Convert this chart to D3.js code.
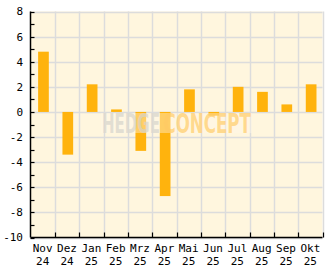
<!DOCTYPE html>
<html>
<head>
<meta charset="utf-8">
<script src="https://cdn.jsdelivr.net/npm/d3@7"></script>
<style>
  html, body { margin: 0; padding: 0; background: #fff; }
  svg { display: block; }
</style>
</head>
<body>
<div id="canvas"></div>
<script>
const months = ['Nov', 'Dez', 'Jan', 'Feb', 'Mrz', 'Apr', 'Mai', 'Jun', 'Jul', 'Aug', 'Sep', 'Okt'];
const years = ['24', '24', '25', '25', '25', '25', '25', '25', '25', '25', '25', '25'];
const values = [4.8, -3.4, 2.2, 0.2, -3.1, -6.7, 1.8, -0.3, 2.0, 1.6, 0.6, 2.2];
const yTicks = [8, 6, 4, 2, 0, -2, -4, -6, -8, -10];
const yMinor = [7, 5, 3, 1, -1, -3, -5, -7, -9];

const width = 332, height = 269;
const plotLeft = 30.5, plotRight = 322.5, plotTop = 11.5, plotBottom = 237.5;

const svg = d3.select('#canvas')
  .append('svg')
  .attr('width', width)
  .attr('height', height);

const x = d3.scaleBand()
  .domain(d3.range(months.length))
  .range([plotLeft, plotRight])
  .padding(0);

const y = d3.scaleLinear()
  .domain([-10, 8])
  .range([plotBottom, plotTop]);

// plot background
svg.append('rect')
  .attr('x', plotLeft)
  .attr('y', plotTop)
  .attr('width', plotRight - plotLeft)
  .attr('height', plotBottom - plotTop)
  .attr('fill', '#fff6de');

// grid
svg.selectAll('.hgrid')
  .data(yTicks)
  .join('line')
  .attr('class', 'hgrid')
  .attr('x1', plotLeft)
  .attr('x2', plotRight)
  .attr('y1', (d) => Math.round(y(d)) + 0.5)
  .attr('y2', (d) => Math.round(y(d)) + 0.5)
  .attr('stroke', '#dcdcdc')
  .attr('stroke-width', 1.5);

svg.selectAll('.vgrid')
  .data(d3.range(1, months.length + 1))
  .join('line')
  .attr('class', 'vgrid')
  .attr('x1', (d) => Math.round(plotLeft + d * x.step()) + 0.5)
  .attr('x2', (d) => Math.round(plotLeft + d * x.step()) + 0.5)
  .attr('y1', plotTop)
  .attr('y2', plotBottom)
  .attr('stroke', '#dcdcdc')
  .attr('stroke-width', 1.5);

// bars
const barW = 10.7;
svg.selectAll('.bar')
  .data(values)
  .join('rect')
  .attr('class', 'bar')
  .attr('x', (d, i) => x(i) + (x.step() - barW) / 2 + 0.8)
  .attr('width', barW)
  .attr('y', (d) => y(Math.max(0, d)))
  .attr('height', (d) => Math.abs(y(d) - y(0)))
  .attr('fill', '#ffb30d');

// watermark, squeezed horizontally to fit
const wm = svg.append('g').attr('opacity', 0.8);
wm.append('rect')
  .attr('x', 101)
  .attr('y', 113)
  .attr('width', 151)
  .attr('height', 20)
  .attr('fill', '#fff8ea')
  .attr('opacity', 0.5);

function squeezedText(str, x0, w, color) {
  const t = wm.append('text')
    .attr('font-family', 'DejaVu Sans Condensed, DejaVu Sans')
    .attr('font-weight', 'bold')
    .attr('font-size', 26)
    .attr('fill', color)
    .text(str);
  const natural = t.node().getComputedTextLength();
  t.attr('transform', `translate(${x0},133) scale(${w / natural},1)`);
}
squeezedText('HEDGE', 102, 58, '#dcd9d0');
squeezedText('CONCEPT', 163.5, 87.5, '#ffd27a');

// axes
svg.append('line')
  .attr('x1', plotLeft).attr('x2', plotLeft)
  .attr('y1', plotTop).attr('y2', plotBottom)
  .attr('stroke', '#000').attr('stroke-width', 1.5);
svg.append('line')
  .attr('x1', plotLeft).attr('x2', plotRight)
  .attr('y1', plotBottom).attr('y2', plotBottom)
  .attr('stroke', '#000').attr('stroke-width', 1.5);

// y ticks (inward)
svg.selectAll('.ytick')
  .data(yTicks.concat(yMinor))
  .join('line')
  .attr('class', 'ytick')
  .attr('x1', plotLeft)
  .attr('x2', plotLeft + 4)
  .attr('y1', (d) => Math.round(y(d)) + 0.5)
  .attr('y2', (d) => Math.round(y(d)) + 0.5)
  .attr('stroke', '#000')
  .attr('stroke-width', 1.2);

svg.selectAll('.ylabel')
  .data(yTicks)
  .join('text')
  .attr('class', 'ylabel')
  .attr('x', 23)
  .attr('y', (d) => y(d))
  .attr('dy', '0.36em')
  .attr('text-anchor', 'end')
  .attr('font-family', 'DejaVu Sans Mono')
  .attr('font-size', 11)
  .attr('fill', '#000')
  .text((d) => String(d));

// x ticks (inward)
svg.selectAll('.xtick')
  .data(d3.range(1, months.length + 1))
  .join('line')
  .attr('class', 'xtick')
  .attr('x1', (d) => Math.round(plotLeft + d * x.step()) + 0.5)
  .attr('x2', (d) => Math.round(plotLeft + d * x.step()) + 0.5)
  .attr('y1', plotBottom)
  .attr('y2', plotBottom - 5)
  .attr('stroke', '#000')
  .attr('stroke-width', 1.2);

const xl = svg.selectAll('.xlabel')
  .data(months)
  .join('text')
  .attr('class', 'xlabel')
  .attr('text-anchor', 'middle')
  .attr('font-family', 'DejaVu Sans Mono')
  .attr('font-size', 11)
  .attr('fill', '#000');
xl.append('tspan')
  .attr('x', (d, i) => x(i) + x.step() / 2)
  .attr('y', 252)
  .text((d) => d);
xl.append('tspan')
  .attr('x', (d, i) => x(i) + x.step() / 2)
  .attr('y', 265)
  .text((d, i) => years[i]);
</script>
</body>
</html>
